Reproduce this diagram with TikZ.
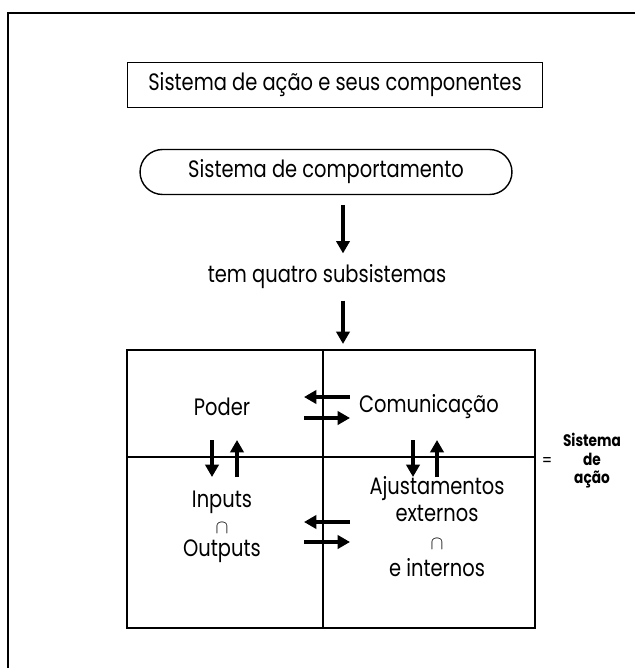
\documentclass[tikz,border=0pt]{standalone}
\usepackage{fontspec}
\setmainfont{Poppins}[FakeStretch=0.82]
\usetikzlibrary{arrows.meta,positioning}

\tikzset{
	caixa/.style={draw, line width=0.8pt, minimum height=0.9cm},
	seta/.style={line width=2.5pt, -{Triangle[length=7pt,width=7.5pt]}},
	texto/.style={font=\fontsize{13.5}{14}\selectfont, align=center},
	linha/.style={texto, inner sep=0pt},
	inter/.style={font=\fontsize{10.5}{10.5}\selectfont, inner sep=0pt}
}

\begin{document}
\begin{tikzpicture}[x=0.02cm, y=-0.02cm]
	\useasboundingbox (0,0) rectangle (635,668);
	\draw[line width=1.1pt] (8,668) -- (8,13) -- (635,13);

	% Titulo e sistema de comportamento
	\node[caixa, texto, minimum width=8.3cm] (titulo) at (335,85) {Sistema de ação e seus componentes};
	\node[caixa, texto, rounded corners=0.45cm, minimum width=7.44cm] (comport) at (326,172) {Sistema de comportamento};
	\node[texto] (quatro) at (327,277) {tem quatro subsistemas};
	\coordinate (eixo) at (343,0);
	\draw[seta, shorten <=5.5pt, shorten >=3pt] (comport.south -| eixo) -- (quatro.north -| eixo);

	% Quadro dos quatro subsistemas
	\node[draw, line width=0.9pt, minimum width=8.16cm, minimum height=5.56cm] (grade) at (331,489) {};
	\coordinate (meio) at (323,457);
	\draw[line width=0.9pt] (grade.north -| meio) -- (grade.south -| meio);
	\draw[line width=0.9pt] (grade.west |- meio) -- (grade.east |- meio);
	\draw[seta, shorten <=3pt, shorten >=3pt] (quatro.south -| eixo) -- (grade.north -| eixo);

	\node[texto] (poder) at (222,407) {Poder};
	\node[texto, anchor=west] (comunic) at (353,407) {Comunicação};
	\node[linha] (inputs) at (222,502) {Inputs};
	\node[inter] (cap1) at (222,528) {$\cap$};
	\node[linha] (outputs) at (222,551) {Outputs};
	\node[linha] (ajust) at (437,489) {Ajustamentos};
	\node[linha] (externos) at (437,513) {externos};
	\node[inter] (cap2) at (437,544) {$\cap$};
	\node[linha] (internos) at (437,568) {e internos};

	% Trocas entre os subsistemas
	\draw[seta] ([shift={(27,-60)}]meio) -- ++(-46,0);
	\draw[seta] ([shift={(-19,-39)}]meio) -- ++(46,0);
	\draw[seta] ([shift={(27,65)}]meio) -- ++(-46,0);
	\draw[seta] ([shift={(-19,85)}]meio) -- ++(46,0);
	\draw[seta] ([shift={(-111,-17)}]meio) -- ++(0,37);
	\draw[seta] ([shift={(-86,20)}]meio) -- ++(0,-37);
	\draw[seta] ([shift={(90,-17)}]meio) -- ++(0,37);
	\draw[seta] ([shift={(114,20)}]meio) -- ++(0,-37);

	% Sistema de acao
	\node (igual) at (547,462) {=};
	\node[font=\fontsize{9.5}{10.5}\selectfont\bfseries, align=center] (acao) at (592,461) {Sistema\\de\\ação};
\end{tikzpicture}
\end{document}
